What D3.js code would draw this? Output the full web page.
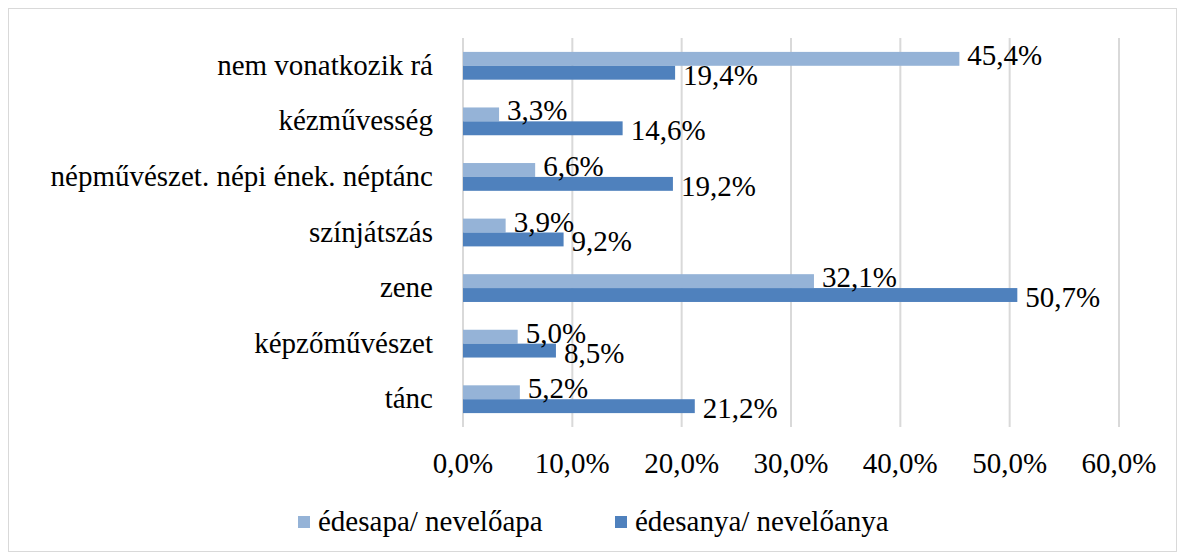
<!DOCTYPE html>
<html>
<head>
<meta charset="utf-8">
<script src="https://cdnjs.cloudflare.com/ajax/libs/d3/7.8.5/d3.min.js"></script>
<style>
  body { margin: 0; background: #fff; }
  svg text { font-family: 'Liberation Serif', serif; }
</style>
</head>
<body>
<script>
var categories = ["nem vonatkozik rá", "kézművesség", "népművészet. népi ének. néptánc",
                  "színjátszás", "zene", "képzőművészet", "tánc"];
var seriesNames = ["édesapa/ nevelőapa", "édesanya/ nevelőanya"];
var apaValues = [45.4, 3.3, 6.6, 3.9, 32.1, 5.0, 5.2];
var anyaValues = [19.4, 14.6, 19.2, 9.2, 50.7, 8.5, 21.2];
var xTicks = [0, 10, 20, 30, 40, 50, 60];
var colors = ["#95b3d7", "#4f81bd"];

var font = "'Liberation Serif', serif";
var fs = 29;

var w = 1185, h = 560;
var margin = {top: 38, left: 463, right: 66, bottom: 133};
var height = h - margin.top - margin.bottom;

var svg = d3.select("body").append("svg")
  .attr("width", w).attr("height", h);

svg.append("rect")
  .attr("x", 8.5).attr("y", 8.5)
  .attr("width", w - 17).attr("height", h - 17)
  .attr("fill", "#fff").attr("stroke", "#d9d9d9");

var chart = svg.append("g")
  .attr("transform", "translate(" + margin.left + "," + margin.top + ")");

var x = d3.scaleLinear().domain([0, 60]).range([0, 656]);
var y = d3.scaleBand().domain(categories).range([0, height]).paddingInner(0.5).paddingOuter(0.25);
var sub = d3.scaleBand().domain([0, 1]).range([0, y.bandwidth()]);

function setFont(sel){
  sel.style("font-family", font)
     .style("font-size", fs + "px");
}

// gridlines
chart.selectAll(".grid").data(xTicks).enter().append("line")
  .attr("x1", function(d){ return x(d); })
  .attr("x2", function(d){ return x(d); })
  .attr("y1", 0).attr("y2", height)
  .attr("stroke", "#d9d9d9").attr("stroke-width", 2);

var rows = categories.map(function(c, i){
  return {key: c, vals: [apaValues[i], anyaValues[i]]};
});

var groups = chart.selectAll(".row").data(rows).enter().append("g")
  .attr("transform", function(d){ return "translate(0," + y(d.key) + ")"; });

groups.selectAll("rect").data(function(d){ return d.vals; }).enter().append("rect")
  .attr("x", 0)
  .attr("y", function(d, i){ return sub(i); })
  .attr("width", function(d){ return x(d); })
  .attr("height", sub.bandwidth())
  .attr("fill", function(d, i){ return colors[i]; });

groups.selectAll(".lbl").data(function(d){ return d.vals; }).enter().append("text")
  .attr("x", function(d){ return x(d) + 8; })
  .attr("y", function(d, i){ return sub(i) + sub.bandwidth() / 2 + (i === 0 ? -4 : 2) + 10; })
  .call(setFont)
  .text(function(d){ return d.toFixed(1).replace(".", ",") + "%"; });

// category labels
chart.selectAll(".cat").data(categories).enter().append("text")
  .attr("x", -30)
  .attr("y", function(d){ return y(d) + y.bandwidth() / 2 + 9; })
  .attr("text-anchor", "end")
  .call(setFont)
  .text(function(d){ return d; });

// x axis labels
chart.selectAll(".xt").data(xTicks).enter().append("text")
  .attr("x", function(d){ return x(d); })
  .attr("y", height + 46)
  .attr("text-anchor", "middle")
  .call(setFont)
  .text(function(d){ return d.toFixed(1).replace(".", ",") + "%"; });

// legend
var legend = svg.selectAll(".leg").data(seriesNames).enter().append("g")
  .attr("transform", function(d, i){ return "translate(" + [298, 615][i] + ",516)"; });
legend.append("rect").attr("width", 12).attr("height", 12)
  .attr("fill", function(d, i){ return colors[i]; });
legend.append("text").attr("x", 20).attr("y", 15)
  .call(setFont)
  .text(function(d){ return d; });
</script>
</body>
</html>
